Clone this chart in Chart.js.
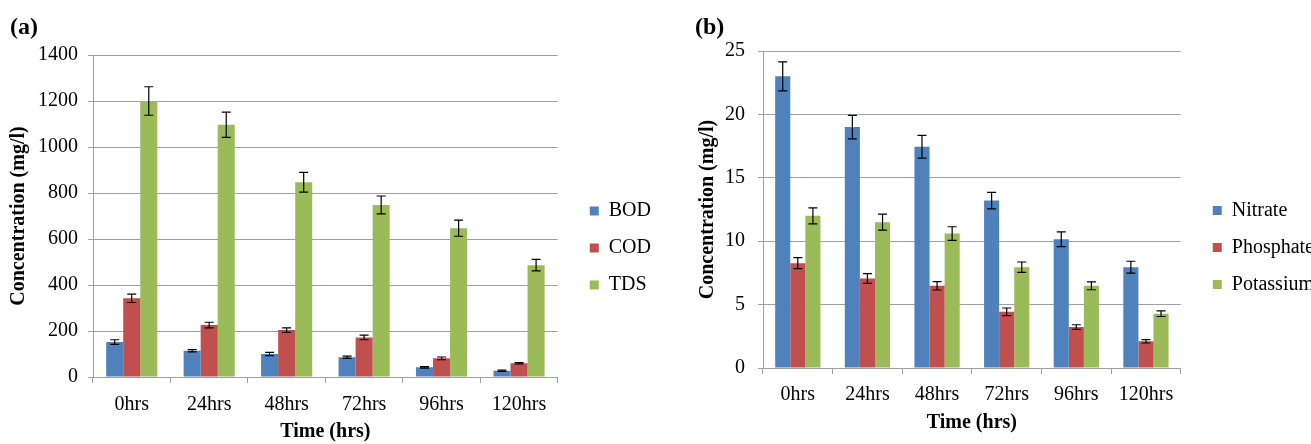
<!DOCTYPE html>
<html>
<head>
<meta charset="utf-8">
<script src="https://cdn.jsdelivr.net/npm/chart.js@4/dist/chart.umd.min.js"></script>
<style>
  html, body { margin: 0; padding: 0; background: #fff; overflow: hidden; width: 1311px; height: 444px; }
  .panel { position: absolute; top: 0; height: 444px; }
  .tag { position: absolute; top: 14px; font: bold 24px 'Liberation Serif', 'Times New Roman', serif; line-height: 24px; color: #000; }
</style>
</head>
<body>
<div class="panel" id="pa" style="left:0;width:661px;"><canvas id="ca"></canvas></div>
<div class="panel" id="pb" style="left:690px;width:634px;"><canvas id="cb"></canvas></div>
<div class="tag" style="left:10px;">(a)</div>
<div class="tag" style="left:695px;">(b)</div>
<script>
// ---------- data ----------
const categories = ['0hrs', '24hrs', '48hrs', '72hrs', '96hrs', '120hrs'];

const bod    = [152, 114, 100, 86, 42, 27];
const bodErr = [10, 5, 7, 5, 3, 3];
const cod    = [342, 226, 204, 172, 81, 60];
const codErr = [18, 12, 10, 10, 6, 3];
const tds    = [1200, 1097, 847, 748, 647, 486];
const tdsErr = [62, 55, 43, 39, 35, 25];

const nitrate      = [23.0, 19.0, 17.45, 13.2, 10.15, 7.95];
const nitrateErr   = [1.15, 0.93, 0.9, 0.65, 0.58, 0.47];
const phosphate    = [8.27, 7.06, 6.48, 4.43, 3.23, 2.1];
const phosphateErr = [0.43, 0.38, 0.33, 0.3, 0.18, 0.13];
const potassium    = [12.0, 11.5, 10.6, 7.95, 6.48, 4.28];
const potassiumErr = [0.63, 0.63, 0.54, 0.41, 0.31, 0.22];

const yTicksA = [0, 200, 400, 600, 800, 1000, 1200, 1400];
const yTicksB = [0, 5, 10, 15, 20, 25];

// ---------- style ----------
const BLUE = '#4F81BD', RED = '#C0504D', GREEN = '#9BBB59';
const GRID = '#a0a0a0';
const FONT = "'Liberation Serif', 'Times New Roman', serif";

const errorBars = {
  id: 'errorBars',
  afterDatasetsDraw(chart) {
    const ctx = chart.ctx;
    const ys = chart.scales.y;
    ctx.save();
    ctx.strokeStyle = '#000';
    ctx.lineWidth = 1.2;
    chart.data.datasets.forEach((ds, i) => {
      const meta = chart.getDatasetMeta(i);
      if (!ds.errors || meta.hidden) return;
      meta.data.forEach((el, j) => {
        const v = ds.data[j], e = ds.errors[j];
        const x = el.x;
        const hi = ys.getPixelForValue(v + e);
        const lo = ys.getPixelForValue(v - e);
        const c = 4.5;
        ctx.beginPath();
        ctx.moveTo(x, hi); ctx.lineTo(x, lo);
        ctx.moveTo(x - c, hi); ctx.lineTo(x + c, hi);
        ctx.moveTo(x - c, lo); ctx.lineTo(x + c, lo);
        ctx.stroke();
      });
    });
    ctx.restore();
  }
};

function makeChart(id, cfg) {
  return new Chart(document.getElementById(id), {
    type: 'bar',
    data: {
      labels: categories,
      datasets: cfg.series.map(s => ({
        label: s.label, data: s.data, errors: s.err,
        backgroundColor: s.color, borderWidth: 0,
        categoryPercentage: cfg.catPct, barPercentage: 1.0
      }))
    },
    options: {
      responsive: true,
      maintainAspectRatio: false,
      animation: false,
      layout: { padding: { top: cfg.top, left: 0, right: 0, bottom: 0 } },
      plugins: {
        tooltip: { enabled: false },
        legend: {
          position: 'right',
          fullSize: false,
          title: { display: true, text: '', padding: { top: cfg.legendShift, bottom: 0 }, font: { family: FONT, size: 20 } },
          labels: {
            boxWidth: 9, boxHeight: 9, padding: 17, color: '#000',
            font: { family: FONT, size: 20 }
          }
        }
      },
      scales: {
        x: {
          grid: { display: true, drawOnChartArea: false, offset: true, tickLength: 6, color: GRID },
          border: { display: true, color: GRID },
          ticks: { color: '#000', padding: cfg.xPad, font: { family: FONT, size: 20 } },
          title: { display: true, text: 'Time (hrs)', color: '#000', padding: { top: 0, bottom: cfg.xTitlePad }, font: { family: FONT, size: 20, weight: 'bold' } },
          afterFit(s) { s.height = cfg.xHeight; }
        },
        y: {
          min: 0, max: cfg.yTicks[cfg.yTicks.length - 1],
          afterBuildTicks(s) { s.ticks = cfg.yTicks.map(v => ({ value: v })); },
          grid: { color: GRID, tickLength: 5 },
          border: { display: true, color: GRID },
          ticks: { color: '#000', padding: cfg.yPad, font: { family: FONT, size: 20 }, callback: v => String(v) },
          title: { display: true, text: 'Concentration (mg/l)', color: '#000', padding: { top: cfg.yTitlePad, bottom: 0 }, font: { family: FONT, size: 20, weight: 'bold' } },
          afterFit(s) { s.width = cfg.yWidth; }
        },
        gap: {
          type: 'linear', position: 'right', display: false,
          afterFit(s) { s.width = 15; }
        }
      }
    },
    plugins: [errorBars]
  });
}

makeChart('ca', {
  series: [
    { label: 'BOD', data: bod, err: bodErr, color: BLUE },
    { label: 'COD', data: cod, err: codErr, color: RED },
    { label: 'TDS', data: tds, err: tdsErr, color: GREEN }
  ],
  catPct: 0.66, yTicks: yTicksA, top: 55, xHeight: 67, yWidth: 93,
  xPad: 10, xTitlePad: 0, yPad: 10, yTitlePad: 7, legendShift: 40
});

makeChart('cb', {
  series: [
    { label: 'Nitrate', data: nitrate, err: nitrateErr, color: BLUE },
    { label: 'Phosphate', data: phosphate, err: phosphateErr, color: RED },
    { label: 'Potassium', data: potassium, err: potassiumErr, color: GREEN }
  ],
  catPct: 0.65, yTicks: yTicksB, top: 51, xHeight: 76, yWidth: 73,
  xPad: 9, xTitlePad: 9, yPad: 13, yTitlePad: 6, legendShift: 52
});
</script>
</body>
</html>
